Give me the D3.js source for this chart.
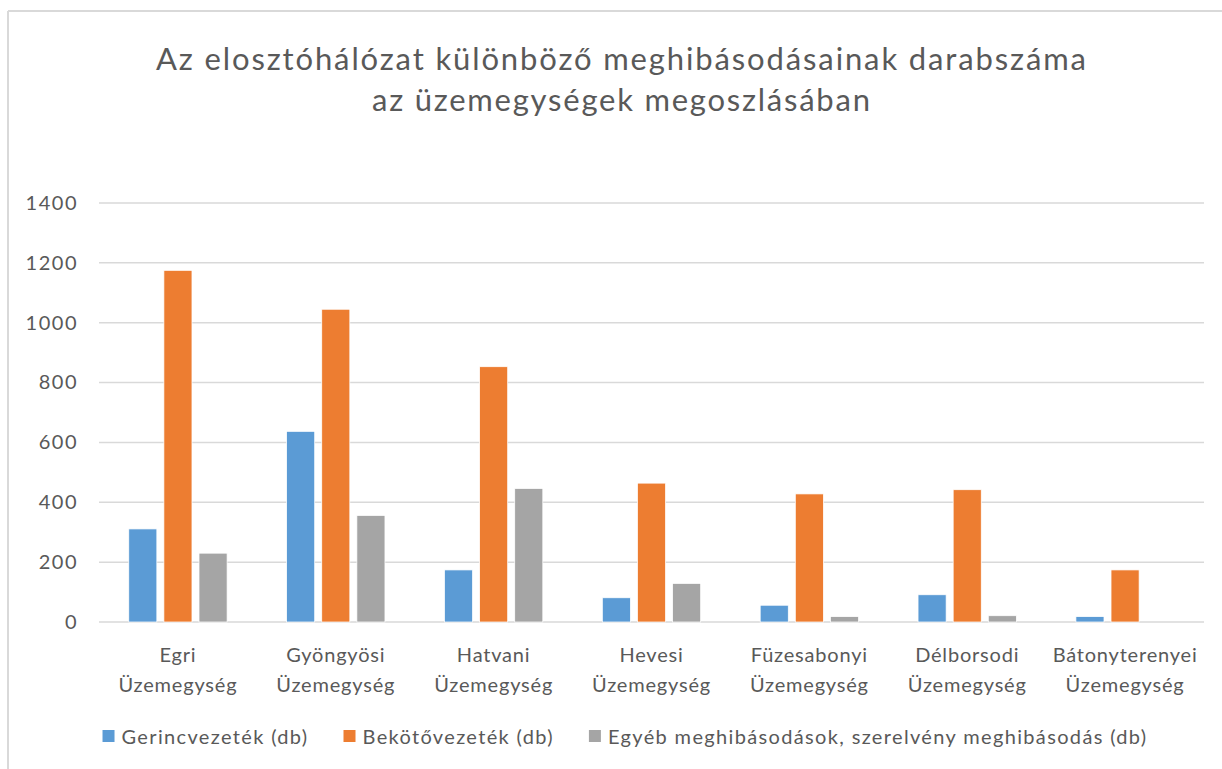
<!DOCTYPE html>
<html>
<head>
<meta charset="utf-8">
<script src="https://cdn.jsdelivr.net/npm/d3@7"></script>
<style>
  body { margin: 0; background: #fff; }
  text { font-family: Lato, "Open Sans", sans-serif; fill: #595959; }
</style>
</head>
<body>
<div id="chart"></div>
<script>
// categories (two-line labels) and series
const categories = [
  'Egri Üzemegység',
  'Gyöngyösi Üzemegység',
  'Hatvani Üzemegység',
  'Hevesi Üzemegység',
  'Füzesabonyi Üzemegység',
  'Délborsodi Üzemegység',
  'Bátonyterenyei Üzemegység'
];
const seriesNames = [
  'Gerincvezeték (db)',
  'Bekötővezeték (db)',
  'Egyéb meghibásodások, szerelvény meghibásodás (db)'
];
const gerinc = [311, 637, 174, 81, 56, 91, 18];
const bekoto = [1175, 1045, 853, 464, 428, 442, 174];
const egyeb = [230, 356, 446, 129, 18, 21, 0];
const yTicks = [0, 200, 400, 600, 800, 1000, 1200, 1400];
const colors = ['#5b9bd5', '#ed7d31', '#a5a5a5'];
const titleLines = [
  'Az elosztóhálózat különböző meghibásodásainak darabszáma',
  'az üzemegységek megoszlásában'
];

const width = 1222, height = 769;
const margin = { top: 203, right: 18, bottom: 147, left: 99 };
const innerW = width - margin.left - margin.right;
const innerH = height - margin.top - margin.bottom;

const svg = d3.select('#chart').append('svg')
  .attr('width', width)
  .attr('height', height);

// chart area border (top and left visible)
svg.append('line')
  .attr('x1', 8).attr('x2', width).attr('y1', 11).attr('y2', 11)
  .attr('stroke', '#d9d9d9').attr('stroke-width', 2);
svg.append('line')
  .attr('x1', 8).attr('x2', 8).attr('y1', 11).attr('y2', height)
  .attr('stroke', '#d9d9d9').attr('stroke-width', 2);

// title
svg.append('g')
  .selectAll('text')
  .data(titleLines)
  .join('text')
  .attr('x', 621)
  .attr('y', (d, i) => 70 + i * 41)
  .attr('text-anchor', 'middle')
  .attr('font-size', 31)
  .attr('textLength', (d, i) => i === 0 ? 930 : 498)
  .attr('lengthAdjust', 'spacing')
  .text(d => d);

const chart = svg.append('g')
  .attr('transform', `translate(${margin.left},${margin.top})`);

const x0 = d3.scaleBand()
  .domain(categories)
  .range([0, innerW])
  .paddingInner(0.377)
  .paddingOuter(0.1885);

const x1 = d3.scaleBand()
  .domain(d3.range(seriesNames.length))
  .range([0, x0.bandwidth()])
  .paddingInner(0.2);

const y = d3.scaleLinear()
  .domain([0, 1400])
  .range([innerH, 0]);

// gridlines
chart.append('g')
  .selectAll('line')
  .data(yTicks)
  .join('line')
  .attr('x1', 0)
  .attr('x2', innerW)
  .attr('y1', d => y(d))
  .attr('y2', d => y(d))
  .attr('stroke', '#d9d9d9')
  .attr('stroke-width', 1.5);

// y axis labels
const yAxis = chart.append('g')
  .call(d3.axisLeft(y).tickValues(yTicks).tickFormat(d3.format('d')).tickSize(0).tickPadding(21));
yAxis.select('.domain').remove();
yAxis.selectAll('text')
  .attr('font-size', 20)
  .attr('letter-spacing', 1.5)
  .attr('font-family', 'Lato, sans-serif')
  .attr('fill', '#595959');

// bars
const series = [gerinc, bekoto, egyeb];
const groups = chart.append('g')
  .selectAll('g')
  .data(categories)
  .join('g')
  .attr('transform', d => `translate(${x0(d)},0)`);

groups.selectAll('rect')
  .data((d, ci) => series.map((s, si) => ({ si, value: s[ci] })))
  .join('rect')
  .attr('x', d => x1(d.si))
  .attr('width', x1.bandwidth())
  .attr('y', d => y(d.value))
  .attr('height', d => innerH - y(d.value))
  .attr('fill', d => colors[d.si])
  .attr('stroke', '#fff')
  .attr('stroke-width', d => d.value > 0 ? 0.75 : 0);

// x labels (two lines)
const xLabels = chart.append('g')
  .selectAll('text')
  .data(categories)
  .join('text')
  .attr('x', d => x0(d) + x0.bandwidth() / 2)
  .attr('y', innerH + 40)
  .attr('text-anchor', 'middle')
  .attr('font-size', 20)
  .attr('letter-spacing', 0.8);
xLabels.selectAll('tspan')
  .data(d => d.split(' '))
  .join('tspan')
  .attr('x', function () { return d3.select(this.parentNode).attr('x'); })
  .attr('dy', (d, i) => i === 0 ? 0 : 30)
  .text(d => d);

// legend
const legend = svg.append('g');
const items = legend.selectAll('g')
  .data(seriesNames)
  .join('g');
items.append('rect')
  .attr('width', 12)
  .attr('height', 12)
  .attr('y', -7)
  .attr('fill', (d, i) => colors[i]);
items.append('text')
  .attr('x', 19)
  .attr('y', 0)
  .attr('dy', '0.35em')
  .attr('font-size', 20)
  .attr('letter-spacing', 1.35)
  .text(d => d);

let lx = 0;
const gap = 35;
items.each(function () {
  const w = 19 + this.querySelector('text').getComputedTextLength();
  d3.select(this).attr('transform', `translate(${lx},0)`);
  lx += w + gap;
});
const totalW = lx - gap;
legend.attr('transform', `translate(${625 - totalW / 2},737)`);
</script>
</body>
</html>
